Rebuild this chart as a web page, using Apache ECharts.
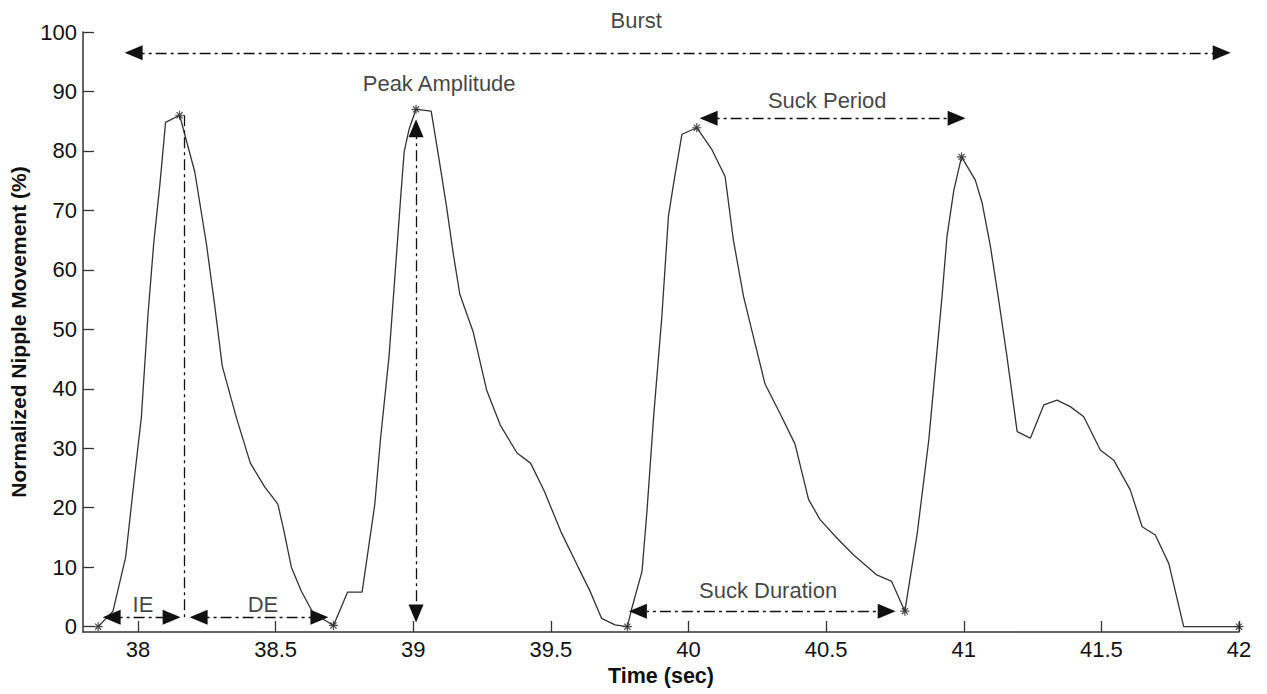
<!DOCTYPE html>
<html>
<head>
<meta charset="utf-8">
<script src="https://cdn.jsdelivr.net/npm/echarts@6/dist/echarts.min.js"></script>
<style>
html,body{margin:0;padding:0;background:#fff;}
#chart{width:1267px;height:694px;}
</style>
</head>
<body>
<div id="chart"></div>
<script>
// ---- data ----
const timeSec = [37.855,37.909,37.955,37.988,38.012,38.036,38.057,38.079,38.100,38.151,38.206,38.248,38.278,38.306,38.357,38.408,38.460,38.508,38.529,38.557,38.593,38.636,38.710,38.761,38.814,38.860,38.881,38.912,38.934,38.955,38.967,38.985,39.010,39.065,39.096,39.120,39.145,39.169,39.218,39.267,39.316,39.377,39.426,39.475,39.537,39.598,39.641,39.684,39.733,39.778,39.794,39.831,39.849,39.873,39.903,39.927,39.946,39.976,40.030,40.085,40.133,40.163,40.200,40.236,40.278,40.333,40.387,40.436,40.478,40.539,40.599,40.684,40.738,40.786,40.831,40.873,40.921,40.939,40.964,40.992,41.042,41.067,41.097,41.127,41.157,41.194,41.242,41.291,41.339,41.387,41.436,41.496,41.545,41.605,41.648,41.696,41.745,41.799,42.000];
const movement = [0,2.6,11.7,25.5,35.2,52.4,64.5,74.2,84.8,86.0,76.5,64.5,54.2,43.8,35.2,27.5,23.5,20.6,16.3,10.0,6.0,2.3,0.2,5.8,5.8,20.5,31.6,45.5,59.4,72.7,79.9,83.7,87.0,86.7,77.9,70.9,62.8,55.9,49.5,39.7,33.9,29.2,27.5,22.9,15.9,10.1,6.1,1.4,0.3,0,3.1,9.3,19.4,35.2,52.1,69.0,74.6,82.8,83.9,80.2,75.7,65.0,55.5,48.7,40.8,35.8,30.7,21.4,18.0,14.9,12.1,8.7,7.6,2.6,15.7,31.4,55.5,65.6,73.4,79.0,75.1,71.2,63.9,54.9,45.4,32.8,31.7,37.3,38.1,37.0,35.3,29.7,28.0,23.0,16.8,15.4,10.6,0,0];

const markerTime = [37.855,38.151,38.710,39.010,39.778,40.030,40.786,40.992,42.000];
const markerMove = [0,86.0,0.2,87.0,0,83.9,2.6,79.0,0];

const xTicks = [38,38.5,39,39.5,40,40.5,41,41.5,42];
const yTicks = [0,10,20,30,40,50,60,70,80,90,100];

// annotation segments (from -> to), and whether they carry arrowheads
const segFromT = [37.984,37.904,38.220,39.010,40.073,39.816,38.167];
const segFromV = [96.5,1.6,1.6,83.8,85.5,2.6,86.0];
const segToT   = [41.937,38.122,38.659,39.010,40.974,40.720,38.167];
const segToV   = [96.5,1.6,1.6,2.2,85.5,2.6,1.6];
const segArrow = [true,true,true,true,true,true,false];

const labelText = ['Burst','Peak Amplitude','Suck Period','Suck Duration','IE','DE'];
const labelT = [39.81,39.094,40.504,40.289,38.018,38.454];
const labelV = [102.0,91.4,88.4,6.1,3.8,3.8];

// ---- chart ----
const FONT = '"Liberation Sans", Arial, sans-serif';
const INK = '#111';
const chart = echarts.init(document.getElementById('chart'), null, {renderer:'svg'});

const lineData = timeSec.map((t,i)=>[t, movement[i]]);
const markerData = markerTime.map((t,i)=>[t, markerMove[i]]);
const segData = segFromT.map((t,i)=>{
  const sym = segArrow[i] ? 'triangle' : 'none';
  return [
    {coord:[t, segFromV[i]], symbol: sym},
    {coord:[segToT[i], segToV[i]], symbol: sym}
  ];
});
const labelData = labelText.map((s,i)=>({name:s, value:[labelT[i], labelV[i]]}));

const axisCommon = {
  axisLine:{show:true, onZero:false, lineStyle:{color:'#333', width:1.5}},
  splitLine:{show:false}
};

chart.setOption({
  animation:false,
  backgroundColor:'#fff',
  grid:{left:83, right:28, top:32, bottom:62, containLabel:false},
  xAxis:Object.assign({
    type:'value', min:37.8, max:42,
    name:'Time (sec)', nameLocation:'middle', nameGap:33,
    nameTextStyle:{fontFamily:FONT, fontWeight:'bold', fontSize:21.5, color:INK},
    axisTick:{show:true, inside:true, length:11, customValues:xTicks, lineStyle:{color:'#333', width:1.3}},
    axisLabel:{show:true, margin:6, customValues:xTicks, fontFamily:FONT, fontSize:22, color:INK,
      formatter:v=>String(v)}
  }, axisCommon),
  yAxis:Object.assign({
    type:'value', min:-0.9, max:100,
    name:'Normalized Nipple Movement (%)', nameLocation:'middle', nameGap:51,
    nameTextStyle:{fontFamily:FONT, fontWeight:'bold', fontSize:21, color:INK},
    axisTick:{show:true, inside:true, length:11, customValues:yTicks, lineStyle:{color:'#333', width:1.3}},
    axisLabel:{show:true, margin:6, customValues:yTicks, fontFamily:FONT, fontSize:22, color:INK,
      formatter:v=>String(v)}
  }, axisCommon),
  series:[
    {
      type:'line', data:lineData, showSymbol:false, symbol:'none', silent:true, clip:false,
      lineStyle:{color:'#333', width:1.3},
      markLine:{
        silent:true, animation:false,
        symbolSize:[15,18],
        label:{show:false},
        lineStyle:{color:'#111', width:1.3, type:[11,4,3,4]},
        itemStyle:{color:'#000'},
        data:segData
      }
    },
    {
      type:'scatter', data:markerData, silent:true, clip:false,
      symbol:'path://M5,0L5,10M0,5L10,5M1.6,1.6L8.4,8.4M1.6,8.4L8.4,1.6',
      symbolSize:9,
      itemStyle:{color:'rgba(0,0,0,0)', borderColor:'#222', borderWidth:1.2}
    },
    {
      type:'scatter', data:labelData, silent:true, clip:false,
      symbolSize:0,
      label:{show:true, position:'inside', formatter:'{b}', fontFamily:FONT, fontSize:22, color:INK}
    }
  ]
});
</script>
</body>
</html>
